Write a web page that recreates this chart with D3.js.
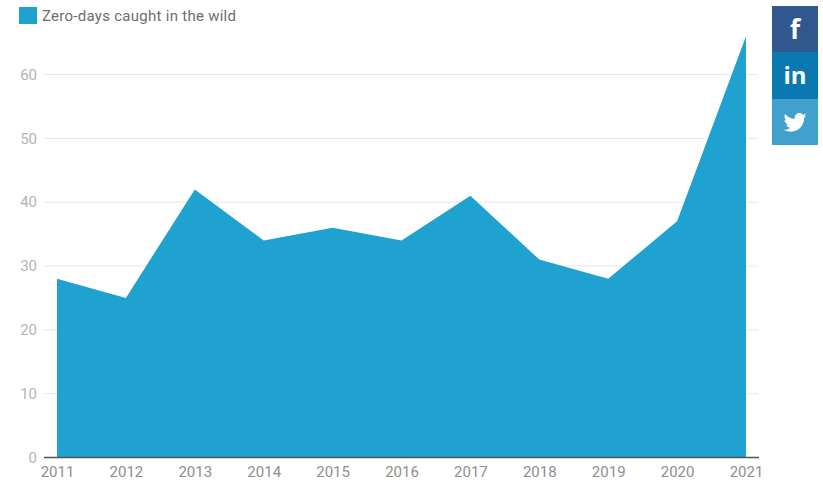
<!DOCTYPE html>
<html>
<head>
<meta charset="utf-8">
<script src="https://cdn.jsdelivr.net/npm/d3@7"></script>
<style>
  html, body { margin: 0; padding: 0; background: #fff; }
  text { font-family: Roboto, sans-serif; }
</style>
</head>
<body>
<div id="chart"></div>
<script>
const years = [2011, 2012, 2013, 2014, 2015, 2016, 2017, 2018, 2019, 2020, 2021];
const zeroDays = [28, 25, 42, 34, 36, 34, 41, 31, 28, 37, 66];
const yTicks = [0, 10, 20, 30, 40, 50, 60];
const seriesName = "Zero-days caught in the wild";

const width = 823, height = 483;
const svg = d3.select("#chart").append("svg")
  .attr("width", width)
  .attr("height", height)
  .style("display", "block");

const xScale = d3.scaleLinear().domain([2011, 2021]).range([57, 746]);
const yScale = d3.scaleLinear().domain([0, 60]).range([457.5, 74.5]);

// gridlines
svg.append("g").selectAll("line")
  .data(yTicks.filter(d => d > 0))
  .join("line")
  .attr("x1", 44).attr("x2", 758)
  .attr("y1", d => yScale(d)).attr("y2", d => yScale(d))
  .attr("stroke", "#e6e6e6")
  .attr("stroke-width", 1);

// area
const area = d3.area()
  .x((d, i) => xScale(years[i]))
  .y0(yScale(0))
  .y1(d => yScale(d));

svg.append("path")
  .datum(zeroDays)
  .attr("d", area)
  .attr("fill", "#1fa2cf");

// y axis
const yAxis = d3.axisLeft(yScale).tickValues(yTicks).tickSize(0).tickPadding(0);
const yG = svg.append("g").attr("transform", "translate(37,0)").call(yAxis);
yG.select(".domain").remove();
yG.selectAll("text")
  .attr("fill", "#b4b4b4")
  .style("font-size", "15px");

// x axis
const xAxis = d3.axisBottom(xScale).tickValues(years).tickFormat(d3.format("d")).tickSize(0).tickPadding(0);
const xG = svg.append("g").attr("transform", "translate(0,466)").call(xAxis);
xG.select(".domain").remove();
xG.selectAll("text")
  .attr("fill", "#8e8e8e")
  .attr("dy", "0.71em")
  .style("font-size", "15px");

// baseline
svg.append("line")
  .attr("x1", 44).attr("x2", 759)
  .attr("y1", 457.5).attr("y2", 457.5)
  .attr("stroke", "#555")
  .attr("stroke-width", 1.5);

// legend
svg.append("rect")
  .attr("x", 19).attr("y", 7)
  .attr("width", 18).attr("height", 17)
  .attr("fill", "#1fa2cf");
svg.append("text")
  .attr("x", 42).attr("y", 21)
  .attr("fill", "#6e6e6e")
  .style("font-size", "15px")
  .attr("textLength", 194)
  .text(seriesName);

// share buttons
const share = svg.append("g");
share.append("rect").attr("x", 772).attr("y", 6).attr("width", 46).attr("height", 46).attr("fill", "#30588f");
share.append("rect").attr("x", 772).attr("y", 52).attr("width", 46).attr("height", 47).attr("fill", "#0a78b1");
share.append("rect").attr("x", 772).attr("y", 99).attr("width", 46).attr("height", 46).attr("fill", "#41a0cc");

share.append("text")
  .attr("x", 795).attr("y", 39)
  .attr("text-anchor", "middle")
  .attr("fill", "#fff")
  .style("font-family", "'Open Sans', sans-serif")
  .style("font-weight", 700)
  .style("font-size", "26px")
  .text("f");
share.append("text")
  .attr("x", 795).attr("y", 84)
  .attr("text-anchor", "middle")
  .attr("fill", "#fff")
  .style("font-family", "'Open Sans', sans-serif")
  .style("font-weight", 700)
  .style("font-size", "24px")
  .text("in");

// twitter bird, 24 unit icon
share.append("path")
  .attr("transform", "translate(783.5,111) scale(0.96)")
  .attr("fill", "#fff")
  .attr("d", "M24 4.6c-.9.4-1.8.7-2.8.8 1-.6 1.8-1.6 2.2-2.7-1 .6-2 1-3.1 1.2C19.3 2.8 18 2.2 16.6 2.2c-2.7 0-4.9 2.2-4.9 4.9 0 .4 0 .8.1 1.1C7.7 8 4.1 6 1.7 3 1.2 3.7 1 4.6 1 5.5c0 1.7.9 3.2 2.2 4.1-.8 0-1.6-.2-2.2-.6v.1c0 2.4 1.7 4.4 3.9 4.8-.4.1-.8.2-1.3.2-.3 0-.6 0-.9-.1.6 2 2.4 3.4 4.6 3.4-1.7 1.3-3.8 2.1-6.1 2.1-.4 0-.8 0-1.2-.1 2.2 1.4 4.8 2.2 7.5 2.2 9.1 0 14-7.5 14-14v-.6c1-.7 1.8-1.6 2.5-2.5z");
</script>
</body>
</html>
